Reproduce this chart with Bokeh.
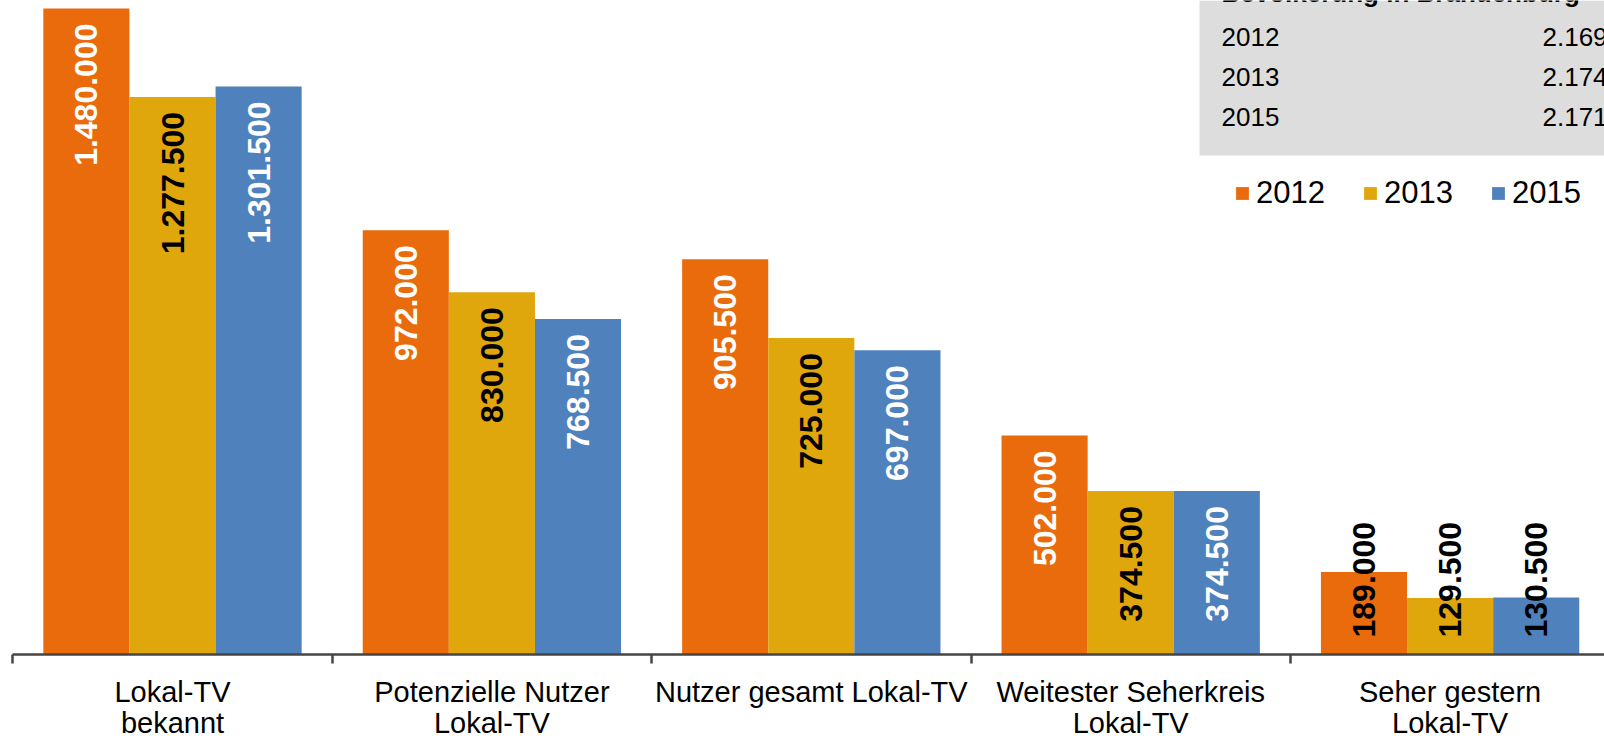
import math
from bokeh.plotting import figure
from bokeh.models import (ColumnDataSource, Range1d, FixedTicker, Legend, LegendItem,
                          BoxAnnotation, Label)
from bokeh.core.properties import value
from bokeh.embed import file_html
from bokeh.resources import INLINE

# ---------------- data ----------------
categories = ["Lokal-TV\nbekannt", "Potenzielle Nutzer\nLokal-TV", "Nutzer gesamt Lokal-TV",
              "Weitester Seherkreis\nLokal-TV", "Seher gestern\nLokal-TV"]
series_names = ["2012", "2013", "2015"]
v2012 = [1480000, 972000, 905500, 502000, 189000]
v2013 = [1277500, 830000, 725000, 374500, 129500]
v2015 = [1301500, 768500, 697000, 374500, 130500]
table_years = ["2012", "2013", "2015"]
table_values = ["2.169", "2.174", "2.171"]
table_title = "Bevölkerung in Brandenburg"

# ---------------- style ----------------
colors = ["#EA6B0C", "#E0A70C", "#4F81BD"]
label_colors = ["white", "black", "white"]
FONT = "Liberation Sans"

W, H = 1604, 736
X0, XS = 12.3, 319.4          # x of category boundary 0, width per category
AX_Y, TOP_Y = 654.0, 8.0      # y of axis line and of the 1.480.000 bar top
YMAX = 1480000


def ux(px):
    return (px - X0) / XS


def vy(py):
    return (AX_Y - py) * YMAX / (AX_Y - TOP_Y)


p = figure(width=W, height=H, output_backend="svg", toolbar_location=None,
           x_range=Range1d(ux(0), ux(W)), y_range=Range1d(vy(H), vy(0)),
           y_axis_location=None, min_border_left=0, min_border_right=0,
           min_border_top=0, min_border_bottom=0)
p.grid.visible = False
p.outline_line_color = None
p.background_fill_color = "white"
p.border_fill_color = "white"

bar_w = 0.2696
offsets = [-bar_w, 0.0, bar_w]
all_vals = [v2012, v2013, v2015]
renderers = []
for k, (vals, col) in enumerate(zip(all_vals, colors)):
    xs = [i + 0.5 + offsets[k] for i in range(len(categories))]
    src = ColumnDataSource(dict(x=xs, top=vals))
    r = p.vbar(x="x", top="top", bottom=0, width=bar_w, source=src, fill_color=col,
               line_color=None)
    renderers.append(r)

    fmt = [f"{v:,}".replace(",", ".") for v in vals]
    tcol = [label_colors[k]] * (len(vals) - 1) + ["black"]
    main = ColumnDataSource(dict(x=xs[:-1], y=vals[:-1], t=fmt[:-1], c=tcol[:-1]))
    p.text(x="x", y="y", text="t", source=main, angle=math.pi / 2, text_align="right",
           text_baseline="middle", y_offset=15, text_color="c",
           text_font=value(FONT), text_font_style="bold", text_font_size="32px")
    last = ColumnDataSource(dict(x=xs[-1:], y=[0], t=fmt[-1:], c=tcol[-1:]))
    p.text(x="x", y="y", text="t", source=last, angle=math.pi / 2, text_align="left",
           text_baseline="middle", y_offset=-17, text_color="c",
           text_font=value(FONT), text_font_style="bold", text_font_size="32px")

# x axis, drawn at value 0
ax = p.xaxis[0]
ax.fixed_location = 0
ax.ticker = FixedTicker(ticks=[i + 0.5 for i in range(len(categories))],
                        minor_ticks=list(range(len(categories) + 1)))
ax.major_label_overrides = {i + 0.5: c for i, c in enumerate(categories)}
ax.bounds = (0, len(categories))
ax.axis_line_color = "#454545"
ax.axis_line_width = 2.5
ax.major_tick_out = 0
ax.major_tick_in = 0
ax.minor_tick_out = 9
ax.minor_tick_in = 0
ax.minor_tick_line_color = "#454545"
ax.minor_tick_line_width = 2.5
ax.major_label_standoff = 12
ax.major_label_text_font = FONT
ax.major_label_text_font_size = "29px"
ax.major_label_text_color = "black"
ax.major_label_text_line_height = 0.97

# table box (top right)
p.add_layout(BoxAnnotation(left=ux(1199), bottom=vy(155), fill_color="#DDDDDD",
                           fill_alpha=1.0, line_color=None, level="underlay"))
p.add_layout(Label(x=ux(1221), y=vy(7), text=table_title, text_font=FONT,
                   text_font_style="bold", text_font_size="26px", text_color="black"))
for j, (yr, tv) in enumerate(zip(table_years, table_values)):
    base = 45 + 40 * j
    p.add_layout(Label(x=ux(1221), y=vy(base), text=yr, text_font=FONT,
                       text_font_size="26px", text_color="black"))
    p.add_layout(Label(x=ux(1542), y=vy(base), text=tv, text_font=FONT,
                       text_font_size="26px", text_color="black"))

legend = Legend(items=[LegendItem(label=n, renderers=[r]) for n, r in zip(series_names, renderers)],
                orientation="horizontal", location=(1234, 525), glyph_width=16, glyph_height=16,
                label_standoff=6, spacing=37, padding=0, margin=0, border_line_color=None,
                background_fill_alpha=0, label_text_font=FONT, label_text_font_size="31px",
                label_text_color="black")
p.add_layout(legend)

open("out.html", "w").write(file_html(p, INLINE))
